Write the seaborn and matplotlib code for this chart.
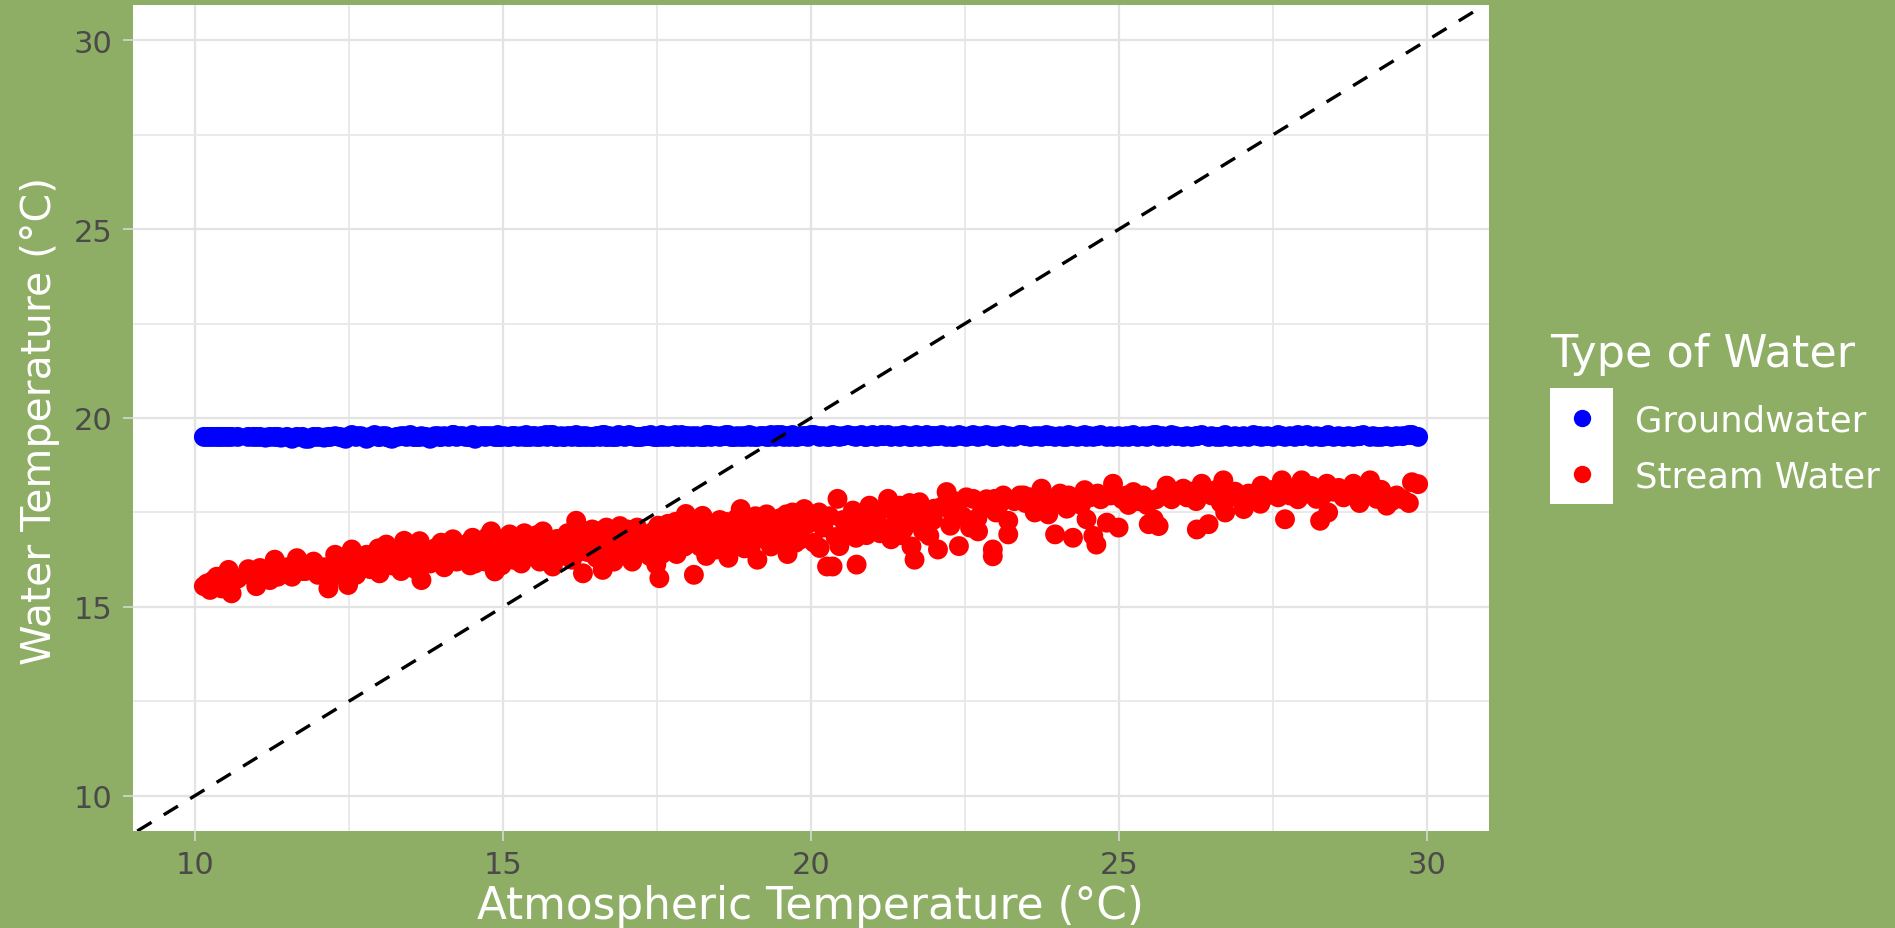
import matplotlib
matplotlib.use("Agg")
import matplotlib.pyplot as plt
from matplotlib.lines import Line2D
from matplotlib.patches import Rectangle
import seaborn as sns
import pandas as pd

# ---------------- data ----------------
atm_temp = [
    10.15, 10.20, 10.30, 10.36, 10.44, 10.50, 10.55, 10.60, 10.70, 10.87,
    10.95, 11.00, 11.06, 11.15, 11.22, 11.30, 11.40, 11.50, 11.58, 11.66,
    11.75, 11.85, 11.93, 12.00, 12.10, 12.17, 12.28, 12.35, 12.45, 12.49,
    12.55, 12.62, 12.70, 12.79, 12.85, 12.92, 13.00, 13.05, 13.11, 13.20,
    13.28, 13.35, 13.44, 13.50, 13.58, 13.65, 13.68, 13.75, 13.82, 13.90,
    13.98, 14.05, 14.12, 14.19, 14.25, 14.35, 14.40, 14.47, 14.51, 14.58,
    14.65, 14.72, 14.81, 14.87, 14.92, 14.95, 15.02, 15.08, 15.11, 15.17,
    15.25, 15.30, 15.38, 15.45, 15.49, 15.55, 15.60, 15.65, 15.72, 15.81,
    15.88, 15.95, 16.00, 16.05, 16.12, 16.19, 16.25, 16.30, 16.38, 16.45,
    16.52, 16.58, 16.62, 16.68, 16.73, 16.80, 16.85, 16.90, 16.98, 17.05,
    17.10, 17.18, 17.25, 17.33, 17.40, 17.49, 17.54, 17.60, 17.68, 17.76,
    17.82, 17.90, 17.97, 18.05, 18.10, 18.15, 18.24, 18.30, 18.38, 18.46,
    18.52, 18.60, 18.66, 18.73, 18.80, 18.86, 18.92, 19.00, 19.06, 19.13,
    19.20, 19.28, 19.35, 19.42, 19.50, 19.56, 19.62, 19.70, 19.78, 19.89,
    19.95, 20.05, 20.13, 20.14, 20.20, 20.26, 20.35, 20.43, 20.46, 20.52,
    20.60, 20.68, 20.73, 20.74, 20.82, 20.90, 20.95, 21.00, 21.06, 21.12,
    21.18, 21.25, 21.30, 21.38, 21.44, 21.50, 21.58, 21.63, 21.68, 21.71,
    21.76, 21.82, 21.88, 21.92, 21.98, 22.06, 22.12, 22.20, 22.26, 22.33,
    22.40, 22.46, 22.52, 22.58, 22.63, 22.71, 22.78, 22.85, 22.95, 22.95,
    22.98, 23.05, 23.12, 23.20, 23.20, 23.30, 23.39, 23.48, 23.56, 23.63,
    23.70, 23.74, 23.82, 23.90, 23.96, 24.04, 24.10, 24.18, 24.25, 24.32,
    24.38, 24.44, 24.47, 24.52, 24.58, 24.63, 24.70, 24.80, 24.86, 24.90,
    24.99, 25.05, 25.12, 25.23, 25.30, 25.39, 25.45, 25.48, 25.56, 25.64,
    25.70, 25.77, 25.85, 25.92, 26.04, 26.10, 26.18, 26.26, 26.34, 26.45,
    26.50, 26.58, 26.69, 26.72, 26.80, 26.88, 26.96, 27.02, 27.10, 27.18,
    27.29, 27.31, 27.40, 27.50, 27.58, 27.64, 27.69, 27.77, 27.85, 27.96,
    28.05, 28.12, 28.20, 28.26, 28.37, 28.39, 28.48, 28.56, 28.64, 28.72,
    28.80, 28.88, 28.96, 29.07, 29.12, 29.18, 29.34, 29.42, 29.50, 29.75,
    12.20, 12.65, 12.98, 13.15, 13.40, 13.62, 13.85, 14.00, 14.30, 14.55,
    14.75, 14.98, 15.15, 15.35, 15.52, 15.70, 15.85, 16.08, 16.22, 16.35,
    16.48, 16.65, 16.78, 16.95, 17.15, 17.30, 17.45, 17.58, 17.72, 17.86,
    18.00, 18.20, 18.35, 18.55, 18.70, 18.95, 19.10, 19.25, 19.45, 19.65,
    19.85, 20.00, 20.30, 20.40, 20.88, 21.15, 21.45, 21.60, 22.00, 22.30,
    22.70, 23.00, 23.45, 23.85, 24.15, 24.65, 25.15, 25.60, 26.25, 26.65,
    27.25, 27.90, 28.30, 28.90, 29.25, 29.60, 29.70, 29.85, 10.25, 10.40,
    13.10, 13.55, 13.95, 14.20, 14.45, 14.70, 14.90, 15.20, 15.40, 15.62,
    15.78, 15.98, 16.15, 16.32, 16.55, 16.70, 16.88, 17.02, 17.20, 17.38,
    17.52, 17.65, 17.80, 17.95, 18.08, 18.28, 18.42, 18.62, 18.78, 18.88,
    19.02, 19.18, 19.32, 19.52, 19.60, 19.75, 19.92, 12.40, 11.80, 11.35,
]

stream_temp = [
    15.55, 15.62, 15.70, 15.80, 15.49, 15.85, 15.98, 15.36, 15.75, 16.00,
    15.80, 15.55, 16.03, 15.85, 15.71, 16.25, 15.90, 16.05, 15.80, 16.29,
    15.95, 16.10, 16.20, 15.85, 16.05, 15.49, 16.38, 15.95, 16.15, 15.58,
    16.52, 15.85, 16.10, 16.38, 16.00, 16.25, 15.89, 16.45, 16.65, 16.10,
    16.35, 15.95, 16.56, 16.20, 16.00, 16.74, 15.71, 16.40, 16.15, 16.55,
    16.56, 16.05, 16.35, 16.79, 16.20, 16.25, 16.55, 16.10, 16.83, 16.40,
    16.65, 16.20, 17.00, 15.94, 16.70, 16.52, 16.30, 16.85, 16.92, 16.25,
    16.60, 16.15, 16.75, 16.35, 16.43, 16.90, 16.20, 17.00, 16.60, 16.07,
    16.80, 16.35, 16.56, 16.95, 16.25, 17.28, 16.70, 15.89, 16.45, 17.05,
    16.30, 16.80, 15.98, 17.10, 16.56, 16.20, 16.90, 17.14, 16.45, 16.75,
    16.20, 17.10, 16.55, 16.52, 16.90, 16.12, 15.76, 16.65, 17.20, 16.87,
    16.40, 17.05, 17.46, 16.70, 15.85, 16.95, 17.41, 16.35, 17.10, 16.52,
    17.30, 16.80, 16.30, 16.96, 17.35, 17.59, 16.55, 17.10, 16.75, 16.25,
    17.19, 17.45, 16.60, 17.00, 17.35, 16.88, 16.40, 17.50, 16.95, 17.59,
    17.20, 16.70, 17.50, 16.56, 17.10, 16.07, 16.07, 17.86, 16.61, 17.30,
    17.00, 17.55, 16.83, 16.12, 17.20, 16.90, 17.68, 17.40, 17.32, 16.95,
    17.60, 17.86, 16.79, 17.25, 17.68, 17.05, 17.45, 16.60, 16.25, 17.23,
    17.77, 17.00, 17.50, 16.88, 17.30, 16.52, 17.65, 18.04, 17.15, 17.80,
    16.61, 17.40, 17.90, 17.10, 17.86, 17.00, 17.60, 17.85, 16.52, 16.34,
    17.86, 17.70, 17.95, 17.28, 16.92, 17.80, 17.95, 17.75, 17.90, 17.50,
    17.85, 18.13, 17.90, 17.75, 16.92, 18.00, 17.80, 17.95, 16.83, 17.85,
    17.70, 18.09, 17.32, 17.90, 16.88, 16.65, 17.85, 17.23, 17.95, 18.26,
    17.10, 17.85, 17.95, 18.04, 17.80, 17.95, 17.70, 17.19, 17.32, 17.14,
    17.95, 18.21, 17.85, 18.00, 18.13, 17.90, 18.05, 17.05, 18.26, 17.19,
    17.95, 18.10, 18.35, 17.50, 17.90, 18.05, 17.95, 17.59, 18.00, 17.85,
    17.73, 18.21, 17.95, 18.10, 17.90, 18.35, 17.32, 17.95, 18.15, 18.35,
    18.00, 18.20, 17.86, 17.28, 18.26, 17.50, 18.05, 18.15, 17.90, 18.05,
    18.26, 18.10, 17.90, 18.35, 18.00, 17.86, 17.68, 17.80, 17.95, 18.30,
    15.75, 16.30, 16.55, 16.30, 16.75, 16.45, 16.30, 16.70, 16.60, 16.15,
    16.85, 16.10, 16.55, 16.95, 16.65, 16.40, 16.55, 16.65, 16.45, 17.00,
    16.65, 16.40, 16.70, 16.90, 16.45, 16.85, 17.00, 16.40, 16.65, 16.85,
    17.20, 16.60, 16.85, 17.05, 16.60, 16.90, 17.40, 16.80, 16.70, 17.20,
    16.80, 17.40, 17.40, 16.85, 17.50, 17.10, 16.90, 17.75, 17.60, 17.45,
    17.35, 17.50, 17.95, 17.45, 17.60, 18.00, 17.70, 17.85, 17.80, 17.75,
    18.05, 17.85, 17.95, 17.75, 18.10, 17.85, 17.75, 18.25, 15.45, 15.65,
    16.20, 16.55, 16.25, 16.45, 16.70, 16.45, 16.30, 16.80, 16.50, 16.75,
    16.30, 16.80, 16.50, 16.75, 17.00, 16.85, 16.60, 17.05, 16.75, 16.35,
    17.15, 16.95, 17.25, 16.60, 17.25, 17.05, 16.70, 17.25, 16.80, 17.20,
    16.55, 16.95, 17.30, 16.95, 17.45, 16.70, 17.40, 16.30, 15.95, 15.80,
]

ground_temp = [
    19.50, 19.50, 19.50, 19.50, 19.50, 19.50, 19.50, 19.50, 19.50, 19.50,
    19.50, 19.50, 19.50, 19.48, 19.50, 19.50, 19.48, 19.50, 19.45, 19.50,
    19.50, 19.45, 19.50, 19.50, 19.48, 19.50, 19.52, 19.50, 19.45, 19.50,
    19.55, 19.50, 19.52, 19.45, 19.50, 19.55, 19.50, 19.52, 19.50, 19.45,
    19.50, 19.52, 19.50, 19.55, 19.50, 19.50, 19.52, 19.50, 19.45, 19.52,
    19.50, 19.52, 19.50, 19.55, 19.50, 19.52, 19.50, 19.50, 19.55, 19.50,
    19.52, 19.50, 19.52, 19.50, 19.55, 19.50, 19.52, 19.50, 19.50, 19.52,
    19.50, 19.52, 19.55, 19.50, 19.52, 19.50, 19.50, 19.52, 19.50, 19.55,
    19.50, 19.52, 19.50, 19.52, 19.50, 19.55, 19.50, 19.52, 19.50, 19.50,
    19.52, 19.50, 19.55, 19.50, 19.52, 19.50, 19.50, 19.52, 19.50, 19.55,
    19.52, 19.50, 19.50, 19.52, 19.55, 19.50, 19.52, 19.50, 19.50, 19.52,
    19.50, 19.55, 19.52, 19.50, 19.50, 19.52, 19.50, 19.55, 19.50, 19.52,
    19.50, 19.52, 19.55, 19.50, 19.52, 19.50, 19.50, 19.55, 19.52, 19.50,
    19.52, 19.50, 19.55, 19.50, 19.52, 19.50, 19.52, 19.55, 19.50, 19.52,
    19.50, 19.55, 19.52, 19.50, 19.52, 19.50, 19.55, 19.52, 19.50, 19.52,
    19.55, 19.52, 19.50, 19.52, 19.55, 19.50, 19.52, 19.55, 19.50, 19.52,
    19.52, 19.55, 19.50, 19.52, 19.50, 19.55, 19.52, 19.50, 19.52, 19.55,
    19.50, 19.52, 19.55, 19.50, 19.52, 19.52, 19.55, 19.50, 19.52, 19.50,
    19.55, 19.52, 19.50, 19.52, 19.55, 19.50, 19.52, 19.55, 19.50, 19.52,
    19.50, 19.52, 19.55, 19.50, 19.52, 19.50, 19.55, 19.52, 19.50, 19.52,
    19.52, 19.50, 19.55, 19.52, 19.50, 19.52, 19.50, 19.55, 19.52, 19.50,
    19.52, 19.55, 19.50, 19.52, 19.50, 19.52, 19.55, 19.50, 19.52, 19.50,
    19.52, 19.50, 19.52, 19.55, 19.50, 19.52, 19.50, 19.52, 19.55, 19.50,
    19.52, 19.50, 19.55, 19.52, 19.50, 19.52, 19.50, 19.52, 19.55, 19.50,
    19.52, 19.50, 19.52, 19.55, 19.50, 19.52, 19.50, 19.52, 19.50, 19.55,
    19.52, 19.50, 19.52, 19.50, 19.55, 19.52, 19.50, 19.52, 19.50, 19.52,
    19.55, 19.50, 19.52, 19.50, 19.52, 19.55, 19.50, 19.52, 19.50, 19.52,
    19.50, 19.52, 19.55, 19.50, 19.52, 19.50, 19.52, 19.50, 19.52, 19.55,
    19.50, 19.52, 19.50, 19.48, 19.52, 19.50, 19.48, 19.50, 19.52, 19.45,
    19.52, 19.50, 19.52, 19.50, 19.52, 19.55, 19.50, 19.52, 19.50, 19.52,
    19.50, 19.55, 19.50, 19.52, 19.50, 19.52, 19.50, 19.55, 19.52, 19.50,
    19.52, 19.50, 19.55, 19.52, 19.50, 19.52, 19.50, 19.52, 19.55, 19.50,
    19.52, 19.55, 19.50, 19.52, 19.50, 19.55, 19.52, 19.50, 19.52, 19.50,
    19.52, 19.50, 19.55, 19.52, 19.50, 19.52, 19.50, 19.55, 19.52, 19.50,
    19.52, 19.55, 19.50, 19.52, 19.50, 19.52, 19.55, 19.50, 19.50, 19.50,
    19.52, 19.50, 19.52, 19.55, 19.50, 19.52, 19.50, 19.52, 19.50, 19.52,
    19.55, 19.50, 19.52, 19.50, 19.52, 19.50, 19.55, 19.52, 19.50, 19.52,
    19.50, 19.52, 19.55, 19.50, 19.52, 19.50, 19.52, 19.55, 19.50, 19.52,
    19.50, 19.52, 19.50, 19.55, 19.52, 19.50, 19.52, 19.48, 19.45, 19.50,
]

water_types = ["Groundwater", "Stream Water"]
type_colors = ["#0000FF", "#FF0000"]
x_ticks = [10, 15, 20, 25, 30]
y_ticks = [10, 15, 20, 25, 30]
x_label = "Atmospheric Temperature (°C)"
y_label = "Water Temperature (°C)"
legend_title = "Type of Water"

# ---------------- build table ----------------
df = pd.DataFrame({
    "atm": atm_temp + atm_temp,
    "water": ground_temp + stream_temp,
    "type": [water_types[0]] * len(atm_temp) + [water_types[1]] * len(atm_temp),
})
palette = dict(zip(water_types, type_colors))

# ---------------- figure ----------------
W, H = 1895, 929
bg = "#8FAE65"
fig = plt.figure(figsize=(W / 100, H / 100), dpi=100, facecolor=bg)
pl, pr, pt, pb = 133, 1489, 6, 832
ax = fig.add_axes([pl / W, 1 - pb / H, (pr - pl) / W, (pb - pt) / H])
ax.set_facecolor("white")

sns.scatterplot(data=df, x="atm", y="water", hue="type", palette=palette,
                hue_order=water_types, s=205, linewidth=0, alpha=1,
                legend=False, ax=ax, zorder=3)

ax.axline((10, 10), slope=1, color="black", lw=2.4, dashes=(5, 4.3), zorder=4)

ax.set_xlim(9.0, 31.0)
ax.set_ylim(9.07, 30.93)
ax.set_xticks(x_ticks)
ax.set_yticks(y_ticks)
ax.set_xticks([12.5, 17.5, 22.5, 27.5], minor=True)
ax.set_yticks([12.5, 17.5, 22.5, 27.5], minor=True)
ax.grid(True, which="major", color="#E3E3E3", lw=1.6, zorder=0)
ax.grid(True, which="minor", color="#E8E8E8", lw=1.3, zorder=0)
ax.set_axisbelow(True)
for sp in ax.spines.values():
    sp.set_visible(False)
ax.tick_params(axis="both", which="major", length=7, width=1.2, color="#D6D6D6",
               labelcolor="#4A4A4A", labelsize=22)
ax.tick_params(axis="x", which="major", pad=7)
ax.tick_params(axis="y", which="major", pad=8)
ax.tick_params(which="minor", length=0)
ax.set_xlabel("")
ax.set_ylabel("")

fig.text(810 / W, 1 - 919 / H, x_label, color="white", fontsize=31.5,
         ha="center", va="baseline")
fig.text(40 / W, 1 - 420.5 / H, y_label, color="white", fontsize=29.5,
         ha="center", va="center", rotation=90)

# ---------------- legend ----------------
fig.patches.append(Rectangle((1550 / W, 1 - 505 / H), 63 / W, 116 / H,
                             transform=fig.transFigure, facecolor="white",
                             edgecolor="none", zorder=1))
handles = [Line2D([], [], marker="o", linestyle="none", markersize=12.5,
                  markerfacecolor=c, markeredgewidth=0) for c in type_colors]
leg = fig.legend(handles, water_types, loc="upper left",
                 bbox_to_anchor=(1550 / W, 1 - 333 / H),
                 frameon=False, borderpad=0, borderaxespad=0,
                 fontsize=25.5, handlelength=1.8, handletextpad=0.6,
                 labelspacing=0.64, alignment="left",
                 title=legend_title, title_fontsize=32)
leg._legend_box.sep = 0.64 * 25.5 + 4.0
leg.get_title().set_color("white")
for t in leg.get_texts():
    t.set_color("white")

fig.savefig("out.png", dpi=100, facecolor=bg)
